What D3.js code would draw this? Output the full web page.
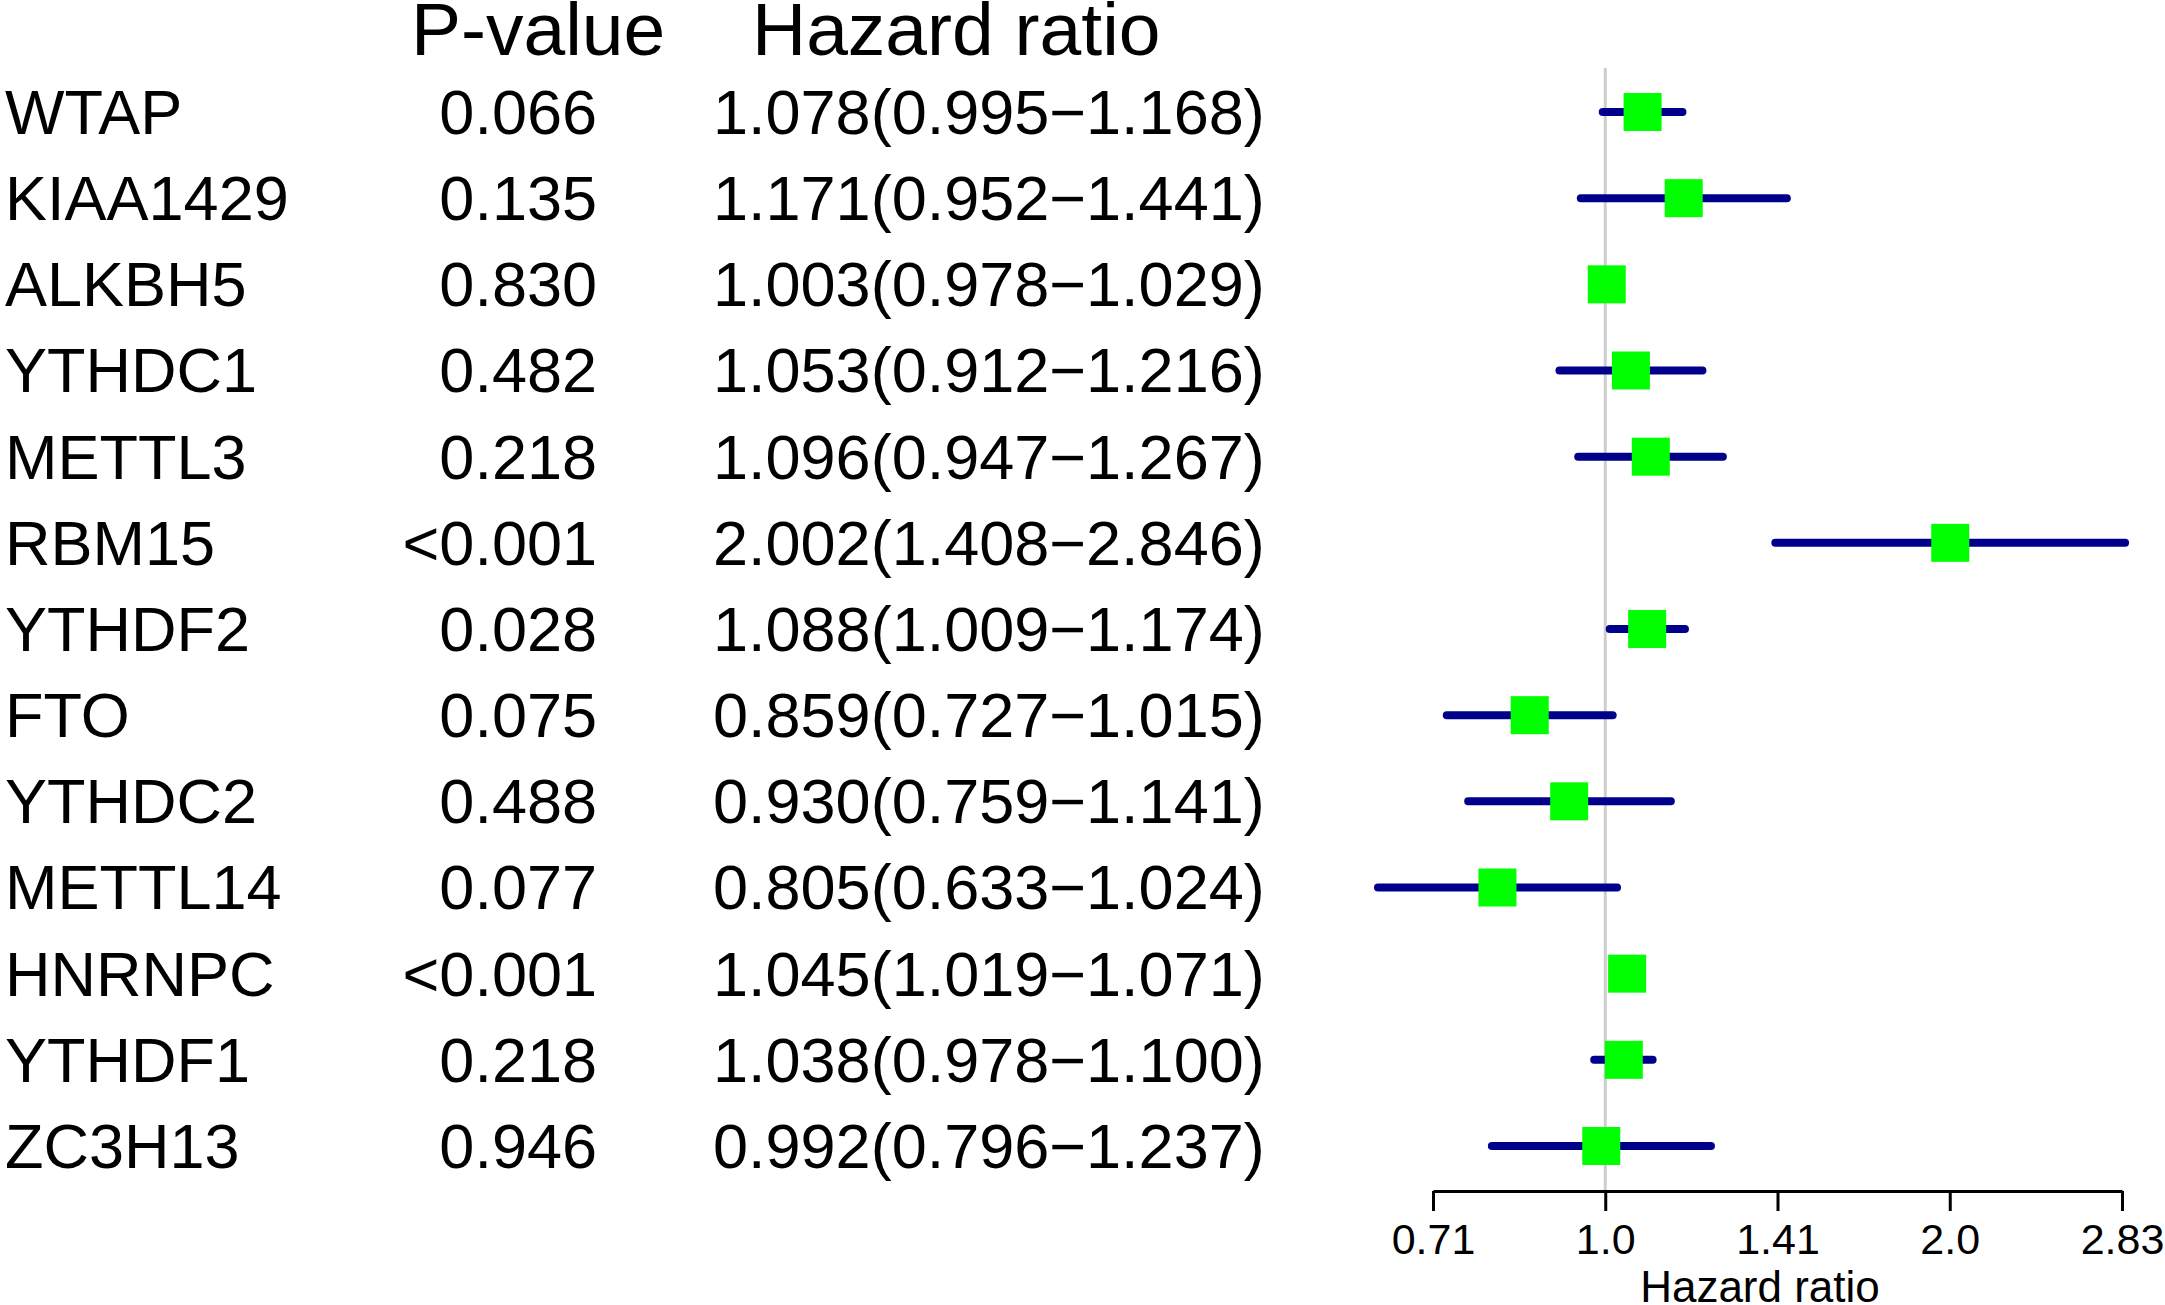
<!DOCTYPE html>
<html>
<head>
<meta charset="utf-8">
<script src="https://cdn.jsdelivr.net/npm/d3@7"></script>
<style>
  body { margin: 0; background: #fff; }
  svg { display: block; font-family: "Liberation Sans", Arial, sans-serif; }
</style>
</head>
<body>
<div id="chart"></div>
<script>
// values
const genes = ["WTAP", "KIAA1429", "ALKBH5", "YTHDC1", "METTL3", "RBM15", "YTHDF2",
               "FTO", "YTHDC2", "METTL14", "HNRNPC", "YTHDF1", "ZC3H13"];
const pvalues = ["0.066", "0.135", "0.830", "0.482", "0.218", "<0.001", "0.028",
                 "0.075", "0.488", "0.077", "<0.001", "0.218", "0.946"];
const hr    = [1.078, 1.171, 1.003, 1.053, 1.096, 2.002, 1.088, 0.859, 0.930, 0.805, 1.045, 1.038, 0.992];
const lower = [0.995, 0.952, 0.978, 0.912, 0.947, 1.408, 1.009, 0.727, 0.759, 0.633, 1.019, 0.978, 0.796];
const upper = [1.168, 1.441, 1.029, 1.216, 1.267, 2.846, 1.174, 1.015, 1.141, 1.024, 1.071, 1.100, 1.237];
const tickValues = [0.7071, 1, 1.4142, 2, 2.8284];
const tickLabels = ["0.71", "1.0", "1.41", "2.0", "2.83"];

let width = 2165, height = 1305;
let rowFont = 63, headFont = 75, axisFont = 43;
let axisY = 1191;

const svg = d3.select("#chart").append("svg")
    .attr("width", width)
    .attr("height", height);

svg.append("rect").attr("width", width).attr("height", height).attr("fill", "#fff");

let data = genes.map(function(g, i) {
    return {gene: g, p: pvalues[i], hr: hr[i], lo: lower[i], hi: upper[i]};
});

let x = d3.scaleLog().base(2)
    .domain([tickValues[0], tickValues[tickValues.length - 1]])
    .range([1433, 2122]);

let y = d3.scalePoint()
    .domain(genes)
    .range([112, 1146]);

const fmt = d3.format(".3f");
const capShift = 61 * 0.716 / 2;

// column headers
svg.append("text")
    .attr("x", 411).attr("y", 55)
    .style("font-size", headFont + "px")
    .text("P-value");
svg.append("text")
    .attr("x", 752).attr("y", 55)
    .style("font-size", headFont + "px")
    .text("Hazard ratio");

// table text
let rows = svg.selectAll(".row")
    .data(data)
    .enter().append("g")
    .attr("class", "row")
    .attr("transform", function(d) { return `translate(0, ${y(d.gene) + capShift})`; })
    .style("font-size", rowFont + "px");

rows.append("text")
    .attr("x", 5)
    .text(function(d) { return d.gene; });

rows.append("text")
    .attr("x", 597)
    .style("text-anchor", "end")
    .text(function(d) { return d.p; });

rows.append("text")
    .attr("x", 713)
    .text(function(d) { return fmt(d.hr) + "(" + fmt(d.lo) + "\u2212" + fmt(d.hi) + ")"; });

// reference line at HR = 1
svg.append("line")
    .attr("x1", x(1)).attr("x2", x(1))
    .attr("y1", 68).attr("y2", axisY)
    .attr("stroke", "#cdcdcd")
    .attr("stroke-width", 3);

// confidence intervals
svg.selectAll(".ci")
    .data(data)
    .enter().append("line")
    .attr("class", "ci")
    .attr("x1", function(d) { return x(d.lo); })
    .attr("x2", function(d) { return x(d.hi); })
    .attr("y1", function(d) { return y(d.gene); })
    .attr("y2", function(d) { return y(d.gene); })
    .attr("stroke", "#00008b")
    .attr("stroke-width", 8)
    .attr("stroke-linecap", "round");

// point estimates
let box = 38;
svg.selectAll(".pt")
    .data(data)
    .enter().append("rect")
    .attr("class", "pt")
    .attr("x", function(d) { return x(d.hr) - box / 2; })
    .attr("y", function(d) { return y(d.gene) - box / 2; })
    .attr("width", box)
    .attr("height", box)
    .attr("fill", "#00ff00");

// x axis
let xAxis = d3.axisBottom(x)
    .tickValues(tickValues)
    .tickFormat(function(d, i) { return tickLabels[i]; })
    .tickSize(20)
    .tickSizeOuter(0)
    .tickPadding(12);

let ax = svg.append("g")
    .attr("transform", `translate(0, ${axisY})`)
    .call(xAxis);

ax.select(".domain").attr("stroke", "#000").attr("stroke-width", 3);
ax.selectAll(".tick line").attr("stroke", "#000").attr("stroke-width", 3);
ax.selectAll(".tick text")
    .attr("fill", "#000")
    .style("font-size", axisFont + "px")
    .style("font-family", '"Liberation Sans", Arial, sans-serif');

svg.append("text")
    .attr("x", 1760).attr("y", 1302)
    .style("text-anchor", "middle")
    .style("font-size", "44px")
    .text("Hazard ratio");
</script>
</body>
</html>
